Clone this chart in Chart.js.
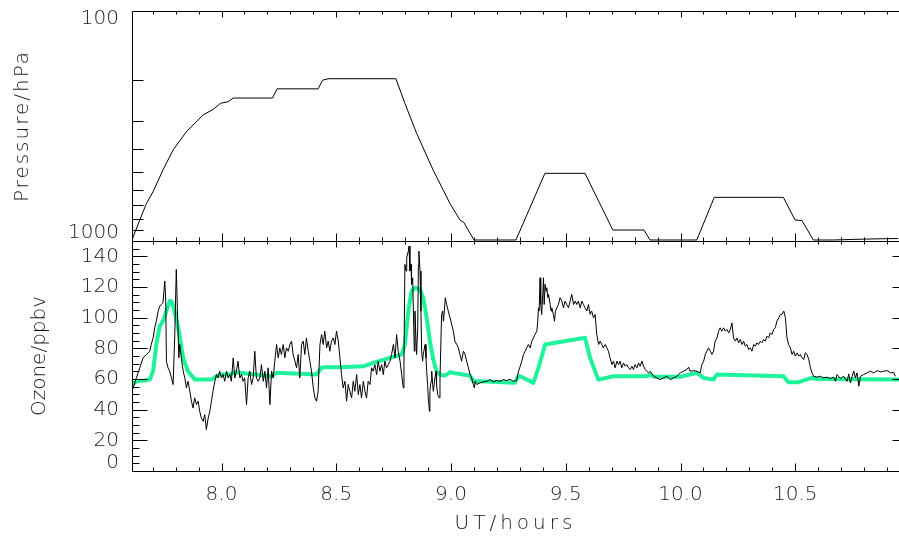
<!DOCTYPE html>
<html lang="en">
<head>
<meta charset="UTF-8">
<title>Pressure and ozone</title>
<script src="https://cdn.jsdelivr.net/npm/chart.js@4.4.1/dist/chart.umd.min.js"></script>
<style>
  body { margin: 0; background: #fff; }
  #wrap { position: relative; width: 899px; height: 537px; }
  canvas { position: absolute; left: 0; }
  #top { top: 0; }
  #bot { top: 230px; }
</style>
</head>
<body>
<div id="wrap">
  <canvas id="top" width="899" height="250"></canvas>
  <canvas id="bot" width="899" height="307"></canvas>
</div>
<script>
// x axis
const xMin = 7.61, xMax = 10.952;
const xTickValues = [8.0, 8.5, 9.0, 9.5, 10.0, 10.5];
const xMinorValues = [7.7, 7.8, 7.9, 8.1, 8.2, 8.3, 8.4, 8.6, 8.7, 8.8, 8.9, 9.1, 9.2, 9.3, 9.4,
  9.6, 9.7, 9.8, 9.9, 10.1, 10.2, 10.3, 10.4, 10.6, 10.7, 10.8, 10.9];

// pressure axis
const pressureTicks = [100, 1000];
const pressureMinor = [200, 300, 400, 500, 600, 700, 800, 900];
// ozone axis
const ozoneTicks = [0, 20, 40, 60, 80, 100, 120, 140];
const ozoneMinor = [5, 10, 15, 25, 30, 35, 45, 50, 55, 65, 70, 75, 85, 90, 95, 105, 110, 115, 125, 130, 135, 145];

// flight pressure (hPa)
const pressureTime = [7.610, 7.644, 7.673, 7.702, 7.745, 7.789, 7.847, 7.920, 7.963, 7.996,
  8.029, 8.051, 8.222, 8.242, 8.421, 8.440, 8.465, 8.760, 8.799, 8.850,
  8.922, 8.995, 9.039, 9.056, 9.100, 9.283, 9.409, 9.584, 9.705, 9.841,
  9.867, 10.071, 10.147, 10.448, 10.499, 10.529, 10.579, 10.665, 10.739, 10.826, 10.948];
const pressureHPa = [990, 810, 686, 610, 491, 402, 335, 283, 268, 252,
  248, 239, 239, 218, 218, 200, 197, 197, 252, 340,
  491, 686, 810, 831, 990, 990, 508, 508, 896, 896,
  990, 990, 646, 646, 810, 815, 990, 990, 985, 980, 975];

// measured ozone (ppbv)
const ozoneTime = [
  7.610, 7.615, 7.629, 7.644, 7.658, 7.673, 7.687, 7.694, 7.702, 7.709,
  7.716, 7.724, 7.731, 7.738, 7.745, 7.753, 7.757, 7.760, 7.767, 7.774,
  7.782, 7.789, 7.796, 7.803, 7.808, 7.814, 7.818, 7.825, 7.833, 7.840,
  7.847, 7.854, 7.862, 7.869, 7.876, 7.883, 7.891, 7.898, 7.905, 7.912,
  7.920, 7.927, 7.934, 7.942, 7.949, 7.956, 7.963, 7.971, 7.978, 7.985,
  7.992, 8.000, 8.007, 8.014, 8.022, 8.029, 8.036, 8.043, 8.051, 8.058,
  8.065, 8.072, 8.080, 8.087, 8.094, 8.101, 8.109, 8.116, 8.123, 8.131,
  8.138, 8.145, 8.152, 8.160, 8.167, 8.174, 8.182, 8.189, 8.196, 8.203,
  8.211, 8.218, 8.225, 8.232, 8.240, 8.247, 8.254, 8.261, 8.269, 8.276,
  8.283, 8.291, 8.298, 8.305, 8.312, 8.320, 8.327, 8.334, 8.341, 8.349,
  8.356, 8.363, 8.370, 8.378, 8.385, 8.392, 8.400, 8.407, 8.414, 8.421,
  8.429, 8.436, 8.443, 8.450, 8.458, 8.465, 8.472, 8.479, 8.487, 8.494,
  8.501, 8.509, 8.516, 8.523, 8.530, 8.538, 8.545, 8.552, 8.559, 8.567,
  8.574, 8.581, 8.589, 8.596, 8.603, 8.610, 8.618, 8.625, 8.632, 8.639,
  8.647, 8.654, 8.661, 8.668, 8.676, 8.683, 8.690, 8.698, 8.705, 8.712,
  8.719, 8.727, 8.734, 8.741, 8.749, 8.756, 8.763, 8.770, 8.778, 8.785,
  8.792, 8.795, 8.799, 8.804, 8.807, 8.814, 8.817, 8.821, 8.826, 8.828,
  8.833, 8.836, 8.840, 8.843, 8.847, 8.850, 8.855, 8.858, 8.860, 8.865,
  8.869, 8.872, 8.876, 8.879, 8.887, 8.891, 8.894, 8.898, 8.901, 8.906,
  8.908, 8.913, 8.916, 8.920, 8.923, 8.930, 8.935, 8.937, 8.942, 8.949,
  8.952, 8.959, 8.964, 8.967, 8.971, 8.975, 8.981, 8.988, 8.996, 9.003,
  9.010, 9.017, 9.025, 9.032, 9.039, 9.046, 9.054, 9.061, 9.068, 9.076,
  9.083, 9.090, 9.097, 9.102, 9.105, 9.112, 9.126, 9.141, 9.156, 9.170,
  9.185, 9.199, 9.214, 9.228, 9.243, 9.257, 9.272, 9.286, 9.294, 9.301,
  9.308, 9.316, 9.323, 9.330, 9.337, 9.345, 9.352, 9.359, 9.366, 9.374,
  9.378, 9.381, 9.384, 9.388, 9.391, 9.395, 9.400, 9.403, 9.406, 9.410,
  9.414, 9.417, 9.422, 9.425, 9.432, 9.436, 9.439, 9.446, 9.451, 9.455,
  9.461, 9.468, 9.475, 9.483, 9.490, 9.497, 9.504, 9.512, 9.519, 9.526,
  9.534, 9.541, 9.548, 9.555, 9.563, 9.570, 9.577, 9.584, 9.592, 9.599,
  9.606, 9.613, 9.621, 9.628, 9.635, 9.643, 9.650, 9.657, 9.664, 9.672,
  9.679, 9.686, 9.693, 9.701, 9.708, 9.715, 9.723, 9.730, 9.737, 9.744,
  9.752, 9.759, 9.766, 9.773, 9.781, 9.788, 9.795, 9.802, 9.810, 9.817,
  9.824, 9.832, 9.839, 9.846, 9.853, 9.861, 9.868, 9.883, 9.897, 9.912,
  9.926, 9.941, 9.955, 9.970, 9.984, 9.999, 10.013, 10.028, 10.035, 10.042,
  10.057, 10.071, 10.086, 10.093, 10.101, 10.108, 10.115, 10.122, 10.130, 10.137,
  10.144, 10.151, 10.159, 10.166, 10.173, 10.180, 10.188, 10.195, 10.202, 10.210,
  10.217, 10.224, 10.231, 10.239, 10.246, 10.253, 10.260, 10.268, 10.275, 10.282,
  10.290, 10.297, 10.304, 10.311, 10.319, 10.326, 10.333, 10.340, 10.348, 10.355,
  10.362, 10.369, 10.377, 10.384, 10.391, 10.398, 10.406, 10.413, 10.420, 10.428,
  10.435, 10.442, 10.450, 10.457, 10.464, 10.471, 10.479, 10.486, 10.493, 10.500,
  10.508, 10.515, 10.522, 10.529, 10.537, 10.544, 10.551, 10.559, 10.566, 10.573,
  10.580, 10.595, 10.609, 10.624, 10.638, 10.653, 10.668, 10.675, 10.682, 10.697,
  10.711, 10.726, 10.733, 10.740, 10.748, 10.755, 10.762, 10.769, 10.777, 10.784,
  10.798, 10.813, 10.827, 10.842, 10.857, 10.871, 10.886, 10.900, 10.915, 10.929,
  10.936];
const ozoneObs = [
  52.0, 54.2, 60.7, 67.3, 73.8, 76.0, 78.1, 82.5, 86.8, 93.4,
  97.7, 104.3, 107.5, 108.6, 109.7, 123.9, 110.8, 71.6, 67.3, 65.1,
  60.7, 56.4, 86.8, 131.5, 104.3, 73.8, 82.5, 73.8, 65.1, 60.7,
  54.2, 58.5, 52.0, 45.5, 41.1, 47.7, 43.3, 45.5, 38.9, 34.6,
  32.4, 36.8, 27.0, 34.6, 38.9, 45.5, 52.0, 58.5, 62.9, 60.7,
  65.1, 60.7, 62.9, 58.5, 65.1, 60.7, 62.9, 58.5, 73.8, 60.7,
  65.1, 71.6, 60.7, 62.9, 58.5, 60.7, 43.3, 60.7, 65.1, 56.4,
  60.7, 78.1, 60.7, 58.5, 60.7, 69.4, 58.5, 65.1, 54.2, 67.3,
  43.3, 65.1, 60.7, 71.6, 82.5, 73.8, 80.3, 76.0, 82.5, 73.8,
  80.3, 78.1, 82.5, 84.7, 76.0, 71.6, 67.3, 76.0, 60.7, 82.5,
  84.7, 76.0, 86.8, 78.1, 71.6, 65.1, 54.2, 47.7, 45.5, 52.0,
  82.5, 89.0, 82.5, 91.2, 80.3, 84.7, 78.1, 84.7, 86.8, 82.5,
  91.2, 84.7, 73.8, 62.9, 54.2, 58.5, 45.5, 56.4, 52.0, 47.7,
  58.5, 52.0, 62.9, 49.8, 56.4, 47.7, 58.5, 52.0, 47.7, 58.5,
  56.4, 67.3, 65.1, 69.4, 62.9, 71.6, 65.1, 69.4, 62.9, 71.6,
  67.3, 69.4, 71.6, 76.0, 82.5, 73.8, 89.0, 78.1, 71.6, 62.9,
  54.2, 69.4, 134.7, 130.4, 139.1, 143.4, 146.7, 130.4, 134.7, 121.7,
  126.0, 104.3, 78.1, 104.3, 86.8, 76.0, 93.4, 134.7, 143.4, 130.4,
  104.3, 78.1, 71.6, 76.0, 82.5, 73.8, 65.1, 56.4, 47.7, 38.9,
  52.0, 58.5, 65.1, 56.4, 52.0, 60.7, 65.1, 56.4, 49.8, 47.7,
  60.7, 102.1, 104.3, 97.7, 104.3, 113.0, 108.6, 104.3, 99.9, 95.6,
  91.2, 84.7, 82.5, 80.3, 76.0, 71.6, 78.1, 76.0, 71.6, 67.3,
  62.9, 60.7, 56.4, 54.2, 58.5, 56.4, 57.5, 58.1, 58.5, 59.6,
  58.1, 59.0, 58.5, 59.6, 59.0, 59.8, 58.5, 59.0, 65.1, 68.0,
  71.6, 76.0, 78.1, 80.3, 82.5, 80.3, 84.7, 86.8, 89.0, 91.2,
  97.7, 106.4, 104.3, 126.0, 108.6, 102.1, 115.2, 126.0, 108.6, 121.7,
  117.3, 119.5, 113.0, 115.2, 108.6, 104.3, 106.4, 102.1, 97.7, 104.3,
  106.4, 108.6, 113.0, 110.8, 106.4, 110.8, 108.6, 106.4, 110.8, 115.2,
  108.6, 110.8, 108.6, 110.8, 106.4, 110.8, 108.6, 106.4, 104.3, 108.6,
  102.1, 104.3, 99.9, 102.1, 89.0, 82.5, 84.7, 82.5, 80.3, 82.5,
  80.3, 78.1, 73.8, 69.4, 71.6, 67.3, 71.6, 69.4, 71.6, 67.3,
  70.5, 68.3, 69.4, 67.3, 66.2, 68.3, 66.2, 69.4, 67.3, 70.5,
  68.3, 71.6, 68.3, 66.2, 65.1, 64.0, 65.1, 61.8, 60.7, 59.6,
  60.7, 61.8, 59.6, 60.7, 61.8, 64.0, 65.1, 66.2, 67.7, 65.1,
  65.5, 65.1, 64.0, 69.4, 71.6, 76.0, 78.1, 80.3, 78.1, 76.0,
  78.1, 84.7, 86.8, 91.2, 93.4, 91.2, 93.4, 91.2, 92.3, 90.1,
  92.3, 96.6, 86.8, 84.7, 86.8, 83.6, 85.8, 82.5, 84.7, 81.4,
  82.5, 79.2, 80.3, 78.1, 82.5, 81.4, 83.6, 82.5, 84.7, 83.6,
  85.8, 84.7, 87.9, 86.8, 90.1, 89.0, 92.3, 93.4, 97.7, 99.9,
  102.1, 102.1, 104.3, 99.9, 86.8, 82.5, 80.3, 76.0, 78.1, 74.9,
  77.0, 74.9, 76.0, 73.8, 72.7, 77.0, 76.0, 72.7, 67.3, 64.0,
  61.8, 61.2, 61.8, 60.7, 61.2, 60.3, 61.2, 58.5, 62.9, 60.3,
  61.8, 58.5, 63.3, 57.5, 61.8, 65.1, 60.7, 64.0, 55.3, 61.8,
  62.9, 64.0, 65.1, 64.0, 65.5, 64.6, 65.1, 65.5, 64.0, 64.4,
  61.8];

// model ozone (ppbv)
const modelTime = [7.610, 7.629, 7.665, 7.687, 7.702, 7.716, 7.731, 7.745, 7.760, 7.775,
  7.782, 7.796, 7.811, 7.833, 7.854, 7.884, 7.956, 7.978, 7.993, 8.036,
  8.058, 8.218, 8.240, 8.414, 8.436, 8.450, 8.516, 8.618, 8.661, 8.734,
  8.785, 8.799, 8.814, 8.828, 8.843, 8.865, 8.879, 8.894, 8.908, 8.923,
  8.937, 8.952, 8.967, 8.981, 8.996, 9.010, 9.039, 9.082, 9.097, 9.126,
  9.279, 9.293, 9.301, 9.359, 9.381, 9.410, 9.584, 9.606, 9.642, 9.708,
  9.853, 9.868, 9.882, 10.000, 10.071, 10.100, 10.144, 10.158, 10.449, 10.470,
  10.514, 10.572, 10.594, 10.952];
const modelO3 = [56.4, 58.5, 59.0, 59.6, 65.0, 82.5, 94.5, 97.7, 104.3, 111.0,
  110.8, 104.3, 93.4, 73.8, 65.0, 59.6, 59.6, 61.8, 62.9, 62.9,
  64.4, 61.8, 64.0, 63.0, 67.3, 67.7, 67.7, 68.3, 70.5, 73.8,
  76.0, 82.5, 104.3, 117.3, 119.5, 118.4, 113.0, 99.9, 84.7, 72.7,
  65.0, 62.9, 62.2, 62.9, 64.4, 64.0, 63.3, 62.2, 58.5, 58.5,
  57.5, 61.8, 61.8, 57.5, 67.3, 82.5, 86.9, 73.8, 59.6, 61.8,
  61.8, 62.9, 61.5, 61.5, 64.0, 60.7, 59.6, 62.9, 61.8, 57.9,
  57.9, 60.7, 60.0, 59.6];

const FONT = 'DejaVu Sans';
const TXT = '#1c1c1c';

function pts(xs, ys) { return xs.map((x, i) => ({x: x, y: ys[i]})); }

// wider letter spacing for an axis title (the original lettering is wide)
function spacedTitle(s, spacing) {
  s.drawTitle = function () {
    const c = this.ctx;
    c.save();
    c.letterSpacing = spacing;
    Chart.Scale.prototype.drawTitle.call(this);
    c.restore();
  };
}

// keep the plot box where it is: no extra room for half labels at the ends
function fixY(s) { s.width = 132; s.paddingTop = 0; s.paddingBottom = 0; }
function fixX(s) { s.height = 66; s.paddingLeft = 0; s.paddingRight = 0; }

// IDL-style frame with inward pointing ticks
const frameTicks = {
  id: 'frameTicks',
  afterDatasetsDraw(chart, args, o) {
    const ctx = chart.ctx, a = chart.chartArea;
    const sx = chart.scales.x, sy = chart.scales.y;
    const L = a.left + 0.5, R = a.right + 0.5, T = a.top + 0.5, B = a.bottom + 0.5;
    ctx.save();
    ctx.strokeStyle = '#000';
    ctx.lineWidth = 1;
    ctx.beginPath();
    ctx.moveTo(L, T); ctx.lineTo(R, T); ctx.lineTo(R, B); ctx.lineTo(L, B); ctx.closePath();
    const xt = (vals, len) => vals.forEach(v => {
      const px = Math.round(sx.getPixelForValue(v)) + 0.5;
      ctx.moveTo(px, B); ctx.lineTo(px, B - len.bottom);
      ctx.moveTo(px, T); ctx.lineTo(px, T + len.top);
    });
    xt(xTickValues, o.xMajor);
    xt(xMinorValues, o.xMinor);
    const yt = (vals, left, right) => vals.forEach(v => {
      const py = Math.round(sy.getPixelForValue(v)) + 0.5;
      if (left) { ctx.moveTo(L, py); ctx.lineTo(L + left, py); }
      if (right) { ctx.moveTo(R, py); ctx.lineTo(R - right, py); }
    });
    yt(o.yMajorVals, o.yMajorLeft, o.yMajorRight);
    yt(o.yMinorVals, o.yMinorLeft, o.yMinorRight);
    ctx.stroke();
    ctx.restore();
  }
};

const tickFont = {family: FONT, size: 20, weight: 300, lineHeight: 0.8};
const titleFont = {family: FONT, size: 20, weight: 300};

// pressure panel
new Chart(document.getElementById('top'), {
  type: 'scatter',
  data: {datasets: [{
    data: pts(pressureTime, pressureHPa),
    showLine: true, borderColor: '#000', borderWidth: 1, pointRadius: 0, tension: 0
  }]},
  options: {
    responsive: false, animation: false,
    layout: {padding: {top: 11, bottom: 9, left: 0, right: 0}},
    plugins: {legend: {display: false}, tooltip: {enabled: false},
      frameTicks: {
        xMajor: {top: 6, bottom: 8}, xMinor: {top: 3, bottom: 4},
        yMajorVals: pressureTicks, yMajorLeft: 15, yMajorRight: 7,
        yMinorVals: pressureMinor, yMinorLeft: 11, yMinorRight: 0
      }},
    scales: {
      x: {type: 'linear', min: xMin, max: xMax, display: false},
      y: {
        type: 'logarithmic', min: 100, max: 1000, reverse: true,
        afterFit: s => { fixY(s); spacedTitle(s, '2px'); },
        afterBuildTicks: s => { s.ticks = pressureTicks.map(v => ({value: v})); },
        grid: {display: false, drawTicks: false},
        border: {display: false},
        ticks: {
          padding: 13, color: TXT, font: tickFont, autoSkip: false,
          callback: v => v === pressureTicks[0] ? ['', String(v)] : [String(v), '']
        },
        title: {display: true, text: 'Pressure/hPa', color: TXT,
          font: titleFont, padding: {top: 11, bottom: 0}}
      }
    }
  },
  plugins: [frameTicks]
});

// ozone panel
new Chart(document.getElementById('bot'), {
  type: 'scatter',
  data: {datasets: [
    {data: pts(ozoneTime, ozoneObs), showLine: true, borderColor: '#000',
      borderWidth: 1, pointRadius: 0, tension: 0},
    {data: pts(modelTime, modelO3), showLine: true, borderColor: '#1ef29a',
      borderWidth: 4, pointRadius: 0, tension: 0, borderJoinStyle: 'round'}
  ]},
  options: {
    responsive: false, animation: false,
    layout: {padding: {top: 11, bottom: 0, left: 0, right: 0}},
    plugins: {legend: {display: false}, tooltip: {enabled: false},
      frameTicks: {
        xMajor: {top: 6, bottom: 8}, xMinor: {top: 3, bottom: 4},
        yMajorVals: ozoneTicks, yMajorLeft: 15, yMajorRight: 7,
        yMinorVals: ozoneMinor, yMinorLeft: 7, yMinorRight: 0
      }},
    scales: {
      x: {
        type: 'linear', min: xMin, max: xMax,
        afterFit: s => { fixX(s); spacedTitle(s, '4px'); },
        afterBuildTicks: s => { s.ticks = xTickValues.map(v => ({value: v})); },
        grid: {display: false, drawTicks: false},
        border: {display: false},
        ticks: {padding: 12, color: TXT, font: titleFont, autoSkip: false,
          maxRotation: 0, callback: v => Number(v).toFixed(1)},
        title: {display: true, text: 'UT/hours', color: TXT,
          font: titleFont, padding: {top: 0, bottom: 1}}
      },
      y: {
        type: 'linear', min: 0, max: 150,
        afterFit: fixY,
        afterBuildTicks: s => { s.ticks = ozoneTicks.map(v => ({value: v})); },
        grid: {display: false, drawTicks: false},
        border: {display: false},
        ticks: {
          padding: 13, color: TXT, font: tickFont, autoSkip: false,
          callback: v => v === 0 ? [String(v), ''] : String(v)
        },
        title: {display: true, text: 'Ozone/ppbv', color: TXT,
          font: titleFont, padding: {top: 28, bottom: 0}}
      }
    }
  },
  plugins: [frameTicks]
});
</script>
</body>
</html>
